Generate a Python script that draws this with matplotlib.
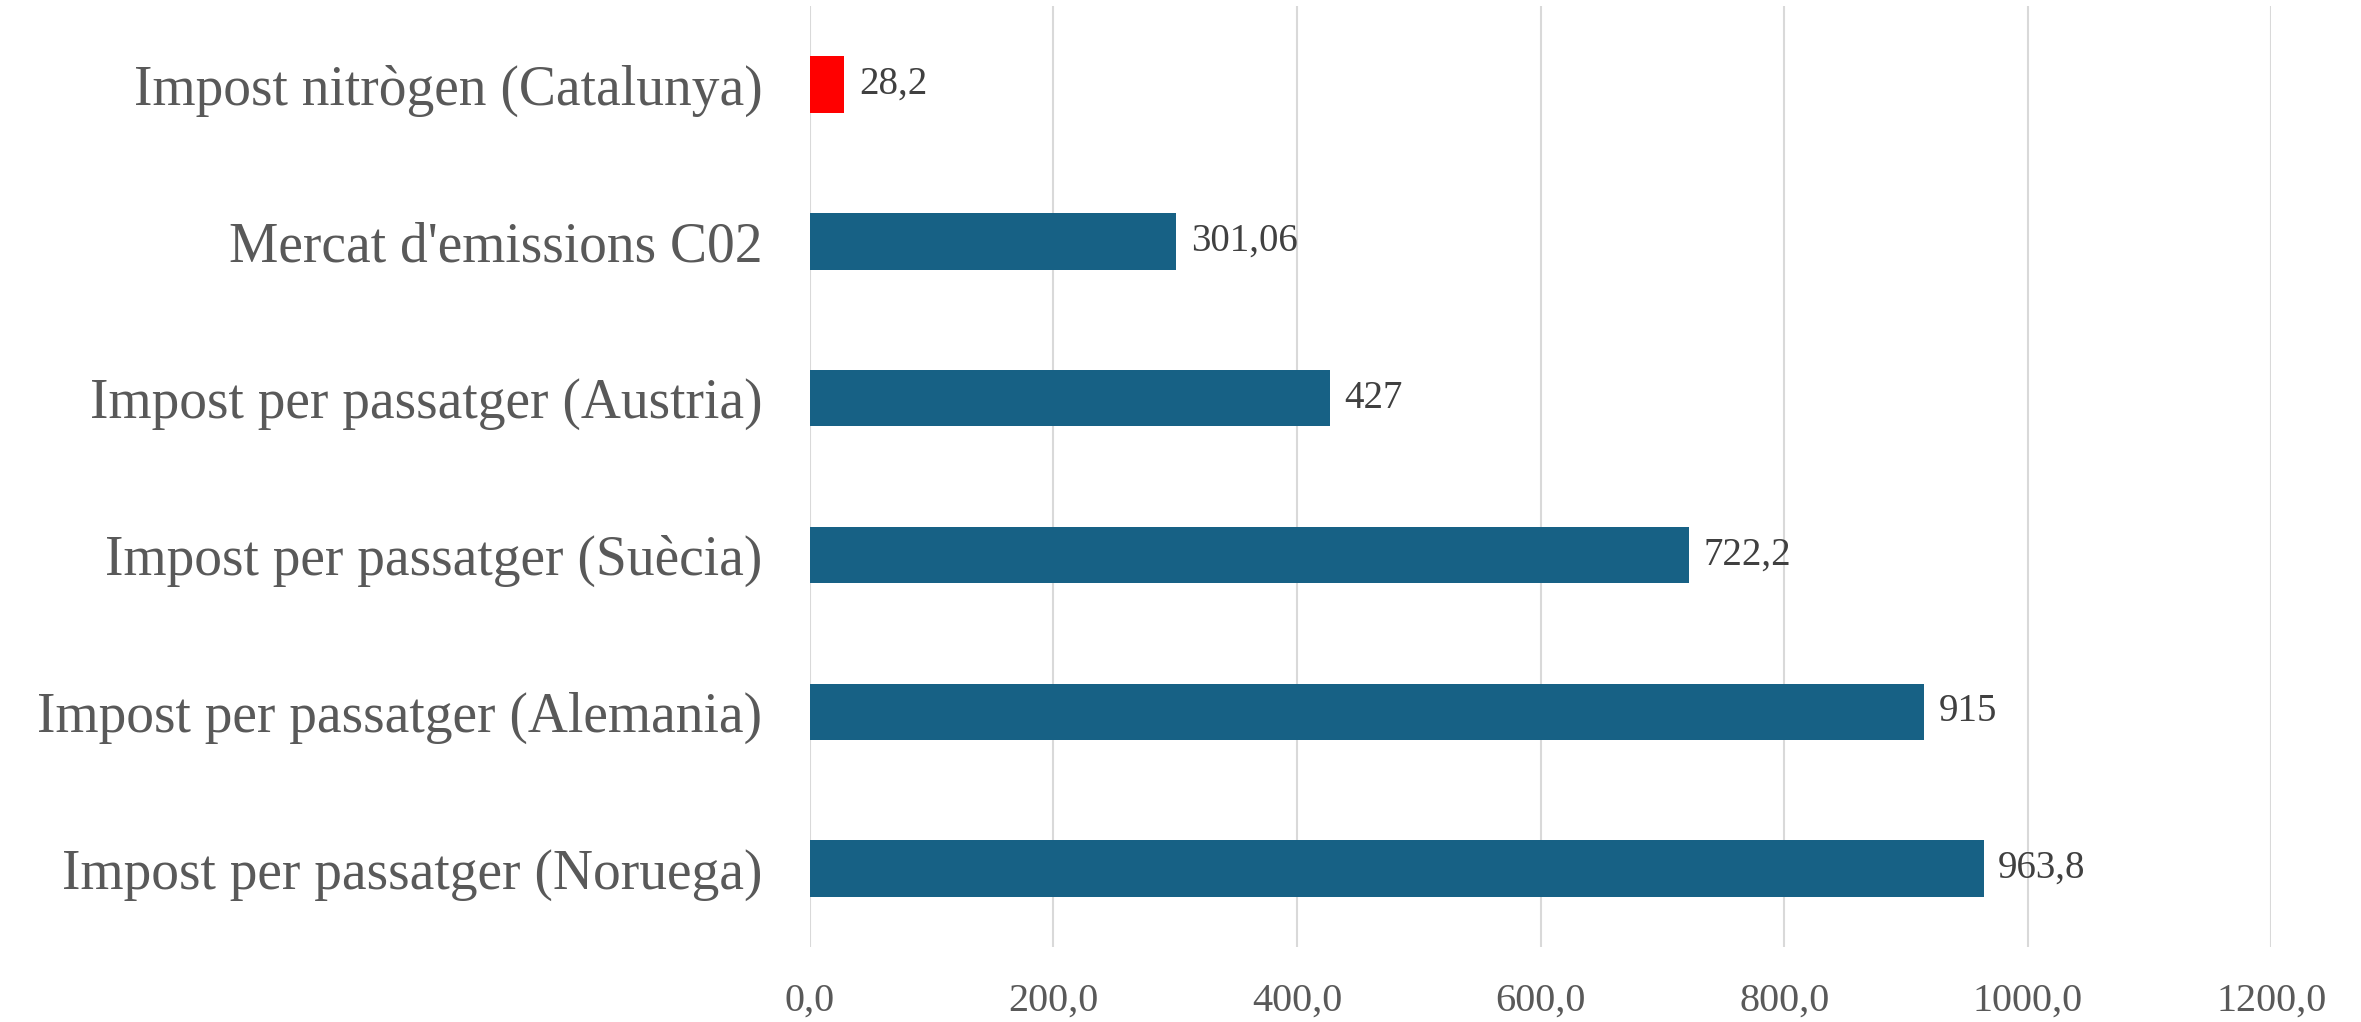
import matplotlib
matplotlib.use("Agg")
import matplotlib.pyplot as plt

categories = [
    "Impost nitrògen (Catalunya)",
    "Mercat d'emissions C02",
    "Impost per passatger (Austria)",
    "Impost per passatger (Suècia)",
    "Impost per passatger (Alemania)",
    "Impost per passatger (Noruega)",
]
values = [28.2, 301.06, 427, 722.2, 915, 963.8]
value_labels = ["28,2", "301,06", "427", "722,2", "915", "963,8"]
bar_colors = ["#FF0000", "#176185", "#176185", "#176185", "#176185", "#176185"]
xticks = [0, 200, 400, 600, 800, 1000, 1200]
xtick_labels = ["0,0", "200,0", "400,0", "600,0", "800,0", "1000,0", "1200,0"]

plt.rcParams["font.family"] = ["Liberation Serif", "DejaVu Serif"]
text_color = "#595959"

fig = plt.figure(figsize=(23.61, 10.22), dpi=100)
ax = fig.add_axes([0.343, 0.0734, 0.619, 0.9206])

y = list(range(len(categories)))
ax.barh(y, values, height=0.36, color=bar_colors, zorder=3)
for yi, v, lab in zip(y, values, value_labels):
    ax.text(v + 12, yi, lab, va="center", ha="left", fontsize=28, color="#404040")

ax.set_ylim(len(categories) - 0.5, -0.5)
ax.set_xlim(0, 1200)
ax.set_yticks(y)
ax.set_yticklabels(categories, fontsize=40, color=text_color)
ax.set_xticks(xticks)
ax.set_xticklabels(xtick_labels, fontsize=29, color=text_color)
ax.tick_params(axis="both", length=0)
ax.tick_params(axis="x", pad=26)
ax.tick_params(axis="y", pad=34)
ax.grid(True, axis="x", color="#D9D9D9", linewidth=1.5, zorder=0)
for s in ax.spines.values():
    s.set_visible(False)

fig.savefig("out.png", dpi=100)
